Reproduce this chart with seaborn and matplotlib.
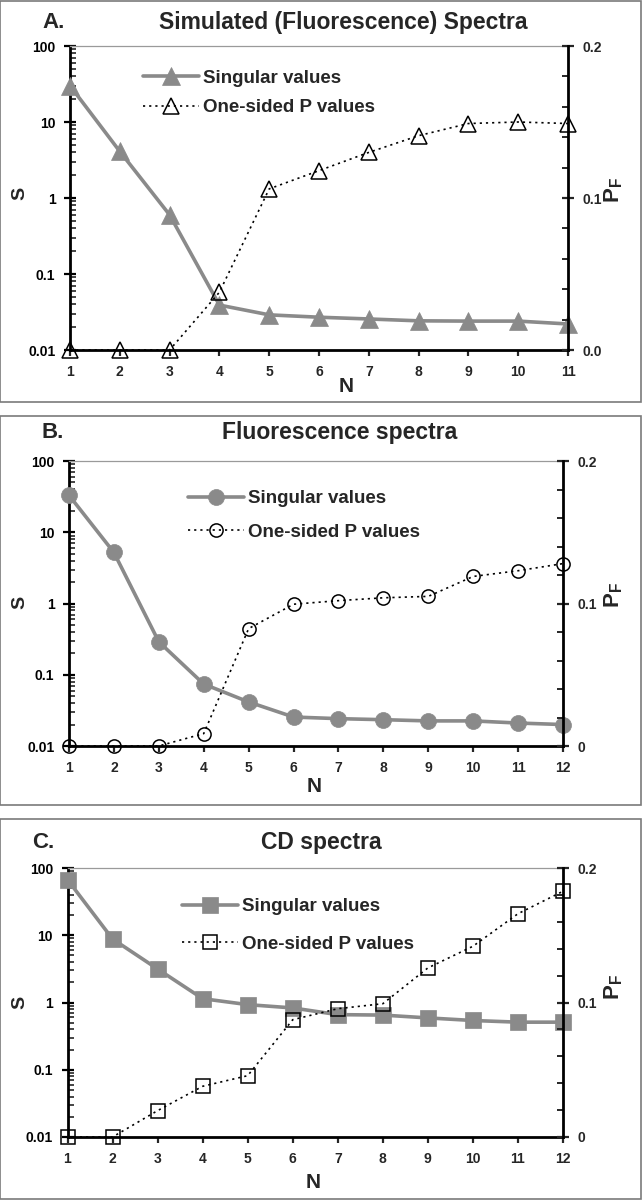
import matplotlib
matplotlib.use("Agg")
import numpy as np
import pandas as pd
import seaborn as sns
import matplotlib.pyplot as plt
from matplotlib.patches import Rectangle
from matplotlib.ticker import FixedLocator, FixedFormatter, LogLocator, NullFormatter, MultipleLocator

# ---------------- data ----------------
n_a = list(range(1, 12))
sv_a = [30, 4.1, 0.60, 0.039, 0.029, 0.027, 0.0256, 0.0242, 0.024, 0.024, 0.022]
pv_a = [0.0, 0.0, 0.0, 0.038, 0.106, 0.118, 0.130, 0.141, 0.149, 0.150, 0.149]

n_b = list(range(1, 13))
sv_b = [33, 5.2, 0.29, 0.074, 0.0415, 0.0255, 0.0242, 0.0234, 0.0225, 0.0225, 0.021, 0.020]
pv_b = [0.0, 0.0, 0.0, 0.0087, 0.0824, 0.0995, 0.102, 0.104, 0.105, 0.119, 0.123, 0.128]

n_c = list(range(1, 13))
sv_c = [67, 8.8, 3.15, 1.14, 0.93, 0.83, 0.66, 0.65, 0.59, 0.54, 0.51, 0.51]
pv_c = [0.0, 0.0, 0.0196, 0.0377, 0.0456, 0.0872, 0.0954, 0.0991, 0.1257, 0.1418, 0.166, 0.1827]

letters = ["A.", "B.", "C."]
titles = ["Simulated (Fluorescence) Spectra", "Fluorescence spectra", "CD spectra"]
legend_labels = ["Singular values", "One-sided P values"]
left_ticks = [0.01, 0.1, 1, 10, 100]
left_ticklabels = ["0.01", "0.1", "1", "10", "100"]
right_ticks = [0.0, 0.1, 0.2]
right_ticklabels = [["0.0", "0.1", "0.2"], ["0", "0.1", "0.2"], ["0", "0.1", "0.2"]]

# ---------------- style ----------------
sns.set_theme(style="white")
plt.rcParams["font.family"] = ["Liberation Sans", "DejaVu Sans"]
plt.rcParams["font.weight"] = "bold"
plt.rcParams["mathtext.fontset"] = "custom"
plt.rcParams["mathtext.rm"] = "Liberation Sans:bold"
plt.rcParams["mathtext.bf"] = "Liberation Sans:bold"
plt.rcParams["mathtext.it"] = "Liberation Sans:bold"

W, H = 642, 1200
fig = plt.figure(figsize=(W / 100, H / 100), dpi=100)


def fx(x):
    return x / W


def fy(y):
    return 1 - y / H


GRAY = "#8a8a8a"

panels = [
    dict(n=n_a, sv=sv_a, pv=pv_a, box=(0, 1, 641, 402), ax=(70, 46, 568, 350),
         mk="^", ms=13, ms2=11, letter=(42, 22), title=(343, 22),
         S=(20, 193), PF=(614, 190), N=(346, 387),
         leg=(0.147, 0.845), lsp=0.65),
    dict(n=n_b, sv=sv_b, pv=pv_b, box=(0, 416, 641, 805), ax=(69, 461, 563, 746),
         mk="o", ms=11.5, ms2=9.5, letter=(42, 433), title=(340, 433),
         S=(20, 602), PF=(614, 595), N=(314, 787),
         leg=(0.241, 0.809), lsp=0.85),
    dict(n=n_c, sv=sv_c, pv=pv_c, box=(0, 819, 641, 1199), ax=(67.5, 868, 563, 1137),
         mk="s", ms=11.5, ms2=9.5, letter=(32, 843), title=(321, 843),
         S=(20, 1002), PF=(614, 987), N=(313, 1183),
         leg=(0.231, 0.786), lsp=1.1),
]

for i, p in enumerate(panels):
    # panel frame
    bx0, by0, bx1, by1 = p["box"]
    fig.patches.append(Rectangle((fx(bx0), fy(by1)), fx(bx1 - bx0), (by1 - by0) / H,
                                 transform=fig.transFigure, fill=False,
                                 edgecolor="#7a7a7a", linewidth=1.2, zorder=0))
    x0, y0, x1, y1 = p["ax"]
    ax = fig.add_axes([fx(x0), fy(y1), (x1 - x0) / W, (y1 - y0) / H])
    ax2 = ax.twinx()

    df = pd.DataFrame({"N": p["n"], "S": p["sv"], "P": p["pv"]})

    sns.lineplot(data=df, x="N", y="S", ax=ax, color=GRAY, linewidth=2.6,
                 marker=p["mk"], markersize=p["ms"], markerfacecolor=GRAY,
                 markeredgecolor=GRAY, markeredgewidth=0.5, clip_on=False,
                 legend=False, zorder=3)
    sns.lineplot(data=df, x="N", y="P", ax=ax2, color="black", linewidth=1.2,
                 linestyle=(0, (1.3, 2.4)), marker=p["mk"], markersize=p["ms2"],
                 markerfacecolor="none", markeredgecolor="black",
                 markeredgewidth=1.1, clip_on=False, legend=False, zorder=4)

    # left axis (log)
    ax.set_yscale("log")
    ax.set_ylim(0.01, 100)
    ax.yaxis.set_major_locator(FixedLocator(left_ticks))
    ax.yaxis.set_major_formatter(FixedFormatter(left_ticklabels))
    ax.yaxis.set_minor_locator(LogLocator(base=10, subs=np.arange(2, 10)))
    ax.yaxis.set_minor_formatter(NullFormatter())
    ax.set_xlim(p["n"][0], p["n"][-1])
    ax.set_xticks(p["n"])
    ax.set_xlabel("")
    ax.set_ylabel("")
    ax.tick_params(axis="y", which="major", direction="inout", length=9, width=1.6,
                   labelsize=10, pad=6, left=True, colors="black")
    ax.tick_params(axis="y", which="minor", direction="in", length=4, width=1.2, left=True)
    ax.tick_params(axis="x", which="major", direction="out", length=4, width=1.6,
                   labelsize=10, pad=7, bottom=True)
    for sp in ["left", "bottom"]:
        ax.spines[sp].set_color("black")
        ax.spines[sp].set_linewidth(2.0)
    ax.spines["right"].set_visible(False)
    ax.spines["top"].set_color("#9a9a9a")
    ax.spines["top"].set_linewidth(0.9)

    # right axis (linear)
    ax2.set_ylim(0, 0.2)
    ax2.yaxis.set_major_locator(FixedLocator(right_ticks))
    ax2.yaxis.set_major_formatter(FixedFormatter(right_ticklabels[i]))
    ax2.yaxis.set_minor_locator(MultipleLocator(0.02))
    ax2.set_ylabel("")
    ax2.tick_params(axis="y", which="major", direction="inout", length=9, width=1.6,
                    labelsize=10, pad=6, right=True)
    ax2.tick_params(axis="y", which="minor", direction="in", length=4, width=1.4, right=True)
    for sp in ["left", "bottom", "top"]:
        ax2.spines[sp].set_visible(False)
    ax2.spines["right"].set_color("black")
    ax2.spines["right"].set_linewidth(2.0)

    for lab in ax.get_xticklabels() + ax.get_yticklabels() + ax2.get_yticklabels():
        lab.set_fontweight("bold")

    # legend
    handles = [ax.lines[0], ax2.lines[0]]
    ax2.legend(handles, legend_labels, loc="center left", bbox_to_anchor=p["leg"],
               frameon=False, prop={"weight": "bold", "size": 13.5},
               handlelength=3.0, handletextpad=0.2, borderpad=0,
               borderaxespad=0, labelspacing=p["lsp"], numpoints=1)

    # texts
    fig.text(fx(p["letter"][0]), fy(p["letter"][1]), letters[i], ha="left", va="center",
             fontsize=16, fontweight="bold")
    fig.text(fx(p["title"][0]), fy(p["title"][1]), titles[i], ha="center", va="center",
             fontsize=16.5, fontweight="bold")
    fig.text(fx(p["S"][0]), fy(p["S"][1]), "S", ha="center", va="center", rotation=90,
             fontsize=14, fontweight="bold")
    fig.text(fx(p["PF"][0]), fy(p["PF"][1]), r"$\mathbf{P}_{\mathbf{F}}$", ha="center",
             va="center", rotation=90, fontsize=16)
    fig.text(fx(p["N"][0]), fy(p["N"][1]), "N", ha="center", va="center",
             fontsize=15, fontweight="bold")

fig.savefig("out.png", dpi=100, facecolor="white")
